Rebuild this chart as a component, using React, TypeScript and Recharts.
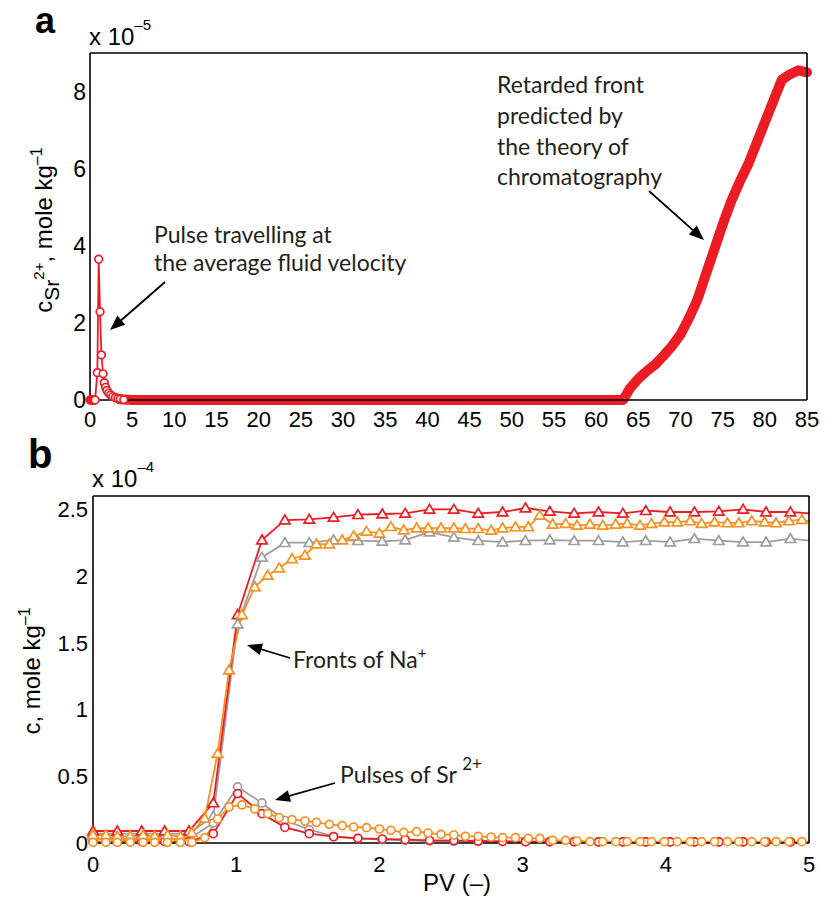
import React from "react";
import { LineChart, Line, XAxis, YAxis } from "recharts";

// ---- panel a: Sr2+ concentration (x 1e-5 mole/kg) vs PV ----
const pulsePV = [0, 0.1, 0.2, 0.3, 0.4, 0.5, 0.6, 0.87, 1.03, 1.19, 1.35, 1.55, 1.7, 1.85, 2.0, 2.2, 2.45, 2.7, 3.0, 3.3, 3.6, 4.0];
const pulseC = [0, 0, 0, 0, 0, 0, 0, 0.71, 3.65, 2.29, 1.17, 0.68, 0.45, 0.33, 0.25, 0.18, 0.13, 0.09, 0.06, 0.04, 0.03, 0.01];
const frontPV = [3.5, 5, 15, 25, 35, 45, 55, 63.2, 64, 65, 66, 67, 68, 69, 70, 71, 72, 73, 74, 75, 76, 77, 78, 79, 80, 81, 82, 83, 84, 85];
const frontC = [0.02, 0, 0, 0, 0, 0, 0, 0, 0.3, 0.55, 0.75, 0.92, 1.15, 1.4, 1.7, 2.12, 2.6, 3.25, 3.9, 4.55, 5.15, 5.65, 6.1, 6.65, 7.2, 7.75, 8.3, 8.45, 8.55, 8.5];
const ticksA_x = [0, 5, 10, 15, 20, 25, 30, 35, 40, 45, 50, 55, 60, 65, 70, 75, 80, 85];
const ticksA_y = [0, 2, 4, 6, 8];

// ---- panel b: concentrations (x 1e-4 mole/kg) vs PV ----
const pvCoarse = [0, 0.17, 0.34, 0.5, 0.67, 0.84, 1.01, 1.18, 1.34, 1.51, 1.68, 1.85, 2.02, 2.18, 2.35, 2.52, 2.69, 2.86, 3.02, 3.19, 3.36, 3.53, 3.7, 3.86, 4.03, 4.2, 4.37, 4.54, 4.7, 4.87, 5.0];
const naRed = [0.09, 0.09, 0.09, 0.09, 0.09, 0.3, 1.71, 2.27, 2.42, 2.425, 2.44, 2.46, 2.465, 2.47, 2.5, 2.5, 2.47, 2.48, 2.51, 2.485, 2.47, 2.48, 2.47, 2.49, 2.48, 2.48, 2.485, 2.5, 2.48, 2.48, 2.47];
const naGray = [0.07, 0.07, 0.07, 0.07, 0.07, 0.2, 1.64, 2.14, 2.25, 2.25, 2.27, 2.265, 2.26, 2.27, 2.33, 2.29, 2.265, 2.255, 2.265, 2.27, 2.265, 2.265, 2.255, 2.265, 2.255, 2.28, 2.265, 2.255, 2.255, 2.28, 2.265];
const srRed = [0.01, 0.01, 0.01, 0.01, 0.01, 0.07, 0.37, 0.22, 0.117, 0.07, 0.047, 0.035, 0.03, 0.025, 0.02, 0.018, 0.015, 0.012, 0.01, 0.01, 0.01, 0.008, 0.008, 0.008, 0.008, 0.008, 0.008, 0.008, 0.008, 0.008, 0.008];
const srGray = [0.03, 0.03, 0.03, 0.03, 0.03, 0.15, 0.42, 0.3, 0.17, 0.1, 0.05, 0.035, 0.025, 0.02, 0.015, 0.012, 0.01, 0.01, 0.008, 0.008, 0.008, 0.008, 0.008, 0.008, 0.008, 0.008, 0.008, 0.008, 0.008, 0.008, 0.008];

const pvFine = [0, 0.09, 0.17, 0.26, 0.35, 0.43, 0.52, 0.61, 0.69, 0.78, 0.87, 0.95, 1.04, 1.13, 1.22, 1.3, 1.39, 1.48, 1.56, 1.65, 1.74, 1.82, 1.91, 2.0, 2.08, 2.17, 2.26, 2.34, 2.43, 2.52, 2.6, 2.69, 2.78, 2.86, 2.95, 3.04, 3.12, 3.21, 3.3, 3.38, 3.47, 3.56, 3.65, 3.73, 3.82, 3.9, 3.99, 4.08, 4.17, 4.25, 4.34, 4.43, 4.51, 4.6, 4.69, 4.77, 4.86, 4.95, 5.0];
const naOrange = [0.06, 0.06, 0.05, 0.05, 0.06, 0.05, 0.06, 0.05, 0.077, 0.185, 0.67, 1.295, 1.71, 1.92, 2.005, 2.06, 2.13, 2.155, 2.24, 2.24, 2.27, 2.3, 2.335, 2.32, 2.37, 2.345, 2.36, 2.36, 2.36, 2.36, 2.355, 2.355, 2.343, 2.36, 2.368, 2.368, 2.455, 2.388, 2.393, 2.38, 2.388, 2.38, 2.388, 2.393, 2.38, 2.393, 2.405, 2.405, 2.413, 2.393, 2.405, 2.398, 2.398, 2.413, 2.405, 2.398, 2.413, 2.423, 2.41];
const srOrange = [0.005, 0.005, 0.005, 0.005, 0.005, 0.005, 0.005, 0.005, 0.005, 0.04, 0.18, 0.27, 0.285, 0.255, 0.22, 0.19, 0.175, 0.165, 0.155, 0.14, 0.13, 0.12, 0.115, 0.105, 0.095, 0.08, 0.085, 0.075, 0.065, 0.06, 0.05, 0.05, 0.045, 0.04, 0.04, 0.035, 0.035, 0.02, 0.02, 0.015, 0.01, 0.01, 0.01, 0.01, 0.01, 0.01, 0.01, 0.01, 0.01, 0.01, 0.01, 0.01, 0.01, 0.01, 0.01, 0.01, 0.01, 0.01, 0.01];
const ticksB_x = [0, 1, 2, 3, 4, 5];
const ticksB_y = [0, 0.5, 1, 1.5, 2, 2.5];

const RED = "#ec1c24";
const GRAY = "#9d9ea2";
const ORANGE = "#f7901e";
const AXIS_FONT = "'Liberation Sans', Arial, sans-serif";
const NOTE_FONT = "Lato, sans-serif";

const zip = (xs: number[], ys: number[]) => xs.map((pv, i) => ({ pv, c: ys[i] }));

const circleDot = (color: string, r: number) => (p: any) => {
  const { cx, cy, index, payload } = p;
  if (cx == null || cy == null || payload.pv >= 5) return <g key={`c${index}`} />;
  return <circle key={`c${index}`} cx={cx} cy={cy} r={r} fill="#fff" stroke={color} strokeWidth={1.7} />;
};

const triangleDot = (color: string) => (p: any) => {
  const { cx, cy, index, payload } = p;
  if (cx == null || cy == null || payload.pv >= 5) return <g key={`t${index}`} />;
  return (
    <path
      key={`t${index}`}
      d={`M${cx},${cy - 5} L${cx + 5.2},${cy + 3.8} L${cx - 5.2},${cy + 3.8} Z`}
      fill="#fff"
      stroke={color}
      strokeWidth={1.7}
    />
  );
};

const axisStroke = { stroke: "#000", strokeWidth: 1.6 };
const tickX = { fill: "#000", fontSize: 22, fontFamily: AXIS_FONT };
const tickY = { fill: "#000", fontSize: 23, fontFamily: AXIS_FONT };

function Arrow({ x1, y1, x2, y2 }: { x1: number; y1: number; x2: number; y2: number }) {
  const dx = x2 - x1;
  const dy = y2 - y1;
  const len = Math.hypot(dx, dy);
  const ux = dx / len;
  const uy = dy / len;
  const bx = x2 - ux * 15;
  const by = y2 - uy * 15;
  const px = -uy * 6;
  const py = ux * 6;
  return (
    <g>
      <line x1={x1} y1={y1} x2={bx + ux * 2} y2={by + uy * 2} stroke="#000" strokeWidth={1.8} />
      <polygon points={`${x2},${y2} ${bx + px},${by + py} ${bx - px},${by - py}`} fill="#000" />
    </g>
  );
}

function PanelA() {
  return (
    <LineChart width={839} height={440} margin={{ top: 53, right: 32, bottom: 10, left: 40 }}>
      <XAxis xAxisId="x" type="number" dataKey="pv" domain={[0, 85]} ticks={ticksA_x} interval={0}
        tickLine={false} tickSize={0} tickMargin={11} axisLine={axisStroke} tick={tickX} height={30} />
      <XAxis xAxisId="xm" type="number" domain={[0, 85]} ticks={ticksA_x} interval={0} mirror
        tick={false} tickSize={7} tickLine={axisStroke} axisLine={false} />
      <XAxis xAxisId="xt" orientation="top" type="number" domain={[0, 85]} ticks={ticksA_x} interval={0} mirror
        tick={false} tickSize={7} tickLine={axisStroke} axisLine={axisStroke} />
      <YAxis yAxisId="y" type="number" domain={[0, 9]} ticks={ticksA_y} interval={0} width={50}
        tickLine={false} tickSize={0} tickMargin={4} axisLine={axisStroke} tick={tickY} />
      <YAxis yAxisId="ym" type="number" domain={[0, 9]} ticks={ticksA_y} interval={0} mirror
        tick={false} tickSize={7} tickLine={axisStroke} axisLine={false} />
      <YAxis yAxisId="yr" orientation="right" type="number" domain={[0, 9]} ticks={ticksA_y} interval={0} mirror
        tick={false} tickSize={7} tickLine={axisStroke} axisLine={axisStroke} />
      <Line xAxisId="x" yAxisId="y" data={zip(frontPV, frontC)} dataKey="c" stroke={RED} strokeWidth={10}
        strokeLinecap="round" strokeLinejoin="round" dot={false} activeDot={false} isAnimationActive={false} />
      <Line xAxisId="x" yAxisId="y" data={zip(pulsePV, pulseC)} dataKey="c" stroke={RED} strokeWidth={1.8}
        dot={circleDot(RED, 3.8)} activeDot={false} isAnimationActive={false} />
    </LineChart>
  );
}

function PanelB() {
  const lines = [
    { key: "naGray", data: zip(pvCoarse, naGray), color: GRAY, dot: triangleDot(GRAY) },
    { key: "srGray", data: zip(pvCoarse, srGray), color: GRAY, dot: circleDot(GRAY, 4) },
    { key: "naRed", data: zip(pvCoarse, naRed), color: RED, dot: triangleDot(RED) },
    { key: "srRed", data: zip(pvCoarse, srRed), color: RED, dot: circleDot(RED, 4) },
    { key: "naOrange", data: zip(pvFine, naOrange), color: ORANGE, dot: triangleDot(ORANGE) },
    { key: "srOrange", data: zip(pvFine, srOrange), color: ORANGE, dot: circleDot(ORANGE, 4) },
  ];
  return (
    <LineChart width={839} height={459} margin={{ top: 56, right: 30, bottom: 26, left: 43 }}>
      <XAxis xAxisId="x" type="number" dataKey="pv" domain={[0, 5]} ticks={ticksB_x} interval={0}
        tickLine={false} tickSize={0} tickMargin={13} axisLine={axisStroke} tick={tickX} height={30} />
      <XAxis xAxisId="xm" type="number" domain={[0, 5]} ticks={ticksB_x} interval={0} mirror
        tick={false} tickSize={7} tickLine={axisStroke} axisLine={false} />
      <XAxis xAxisId="xt" orientation="top" type="number" domain={[0, 5]} ticks={ticksB_x} interval={0} mirror
        tick={false} tickSize={7} tickLine={axisStroke} axisLine={axisStroke} />
      <YAxis yAxisId="y" type="number" domain={[0, 2.6]} ticks={ticksB_y} interval={0} width={50}
        tickLine={false} tickSize={0} tickMargin={5} axisLine={axisStroke} tick={tickX} />
      <YAxis yAxisId="ym" type="number" domain={[0, 2.6]} ticks={ticksB_y} interval={0} mirror
        tick={false} tickSize={7} tickLine={axisStroke} axisLine={false} />
      <YAxis yAxisId="yr" orientation="right" type="number" domain={[0, 2.6]} ticks={ticksB_y} interval={0} mirror
        tick={false} tickSize={7} tickLine={axisStroke} axisLine={axisStroke} />
      {lines.map((l) => (
        <Line key={l.key} xAxisId="x" yAxisId="y" data={l.data} dataKey="c" stroke={l.color} strokeWidth={1.8}
          dot={l.dot} activeDot={false} isAnimationActive={false} />
      ))}
    </LineChart>
  );
}

function Overlay() {
  const t = { fontFamily: AXIS_FONT, fill: "#000" };
  const n = { fontFamily: NOTE_FONT, fill: "#231f20", fontSize: 23 };
  return (
    <svg width={839} height={899} style={{ position: "absolute", left: 0, top: 0, pointerEvents: "none" }}>
      <text x={35} y={33} fontSize={36} fontWeight="bold" {...t}>a</text>
      <text x={28} y={468} fontSize={40} fontWeight="bold" {...t}>b</text>

      <text x={89} y={45} fontSize={24} {...t}>x 10<tspan dy={-15} fontSize={15}>–5</tspan></text>
      <text x={92} y={487} fontSize={24} {...t}>x 10<tspan dy={-15} fontSize={15}>–4</tspan></text>

      <text transform="translate(52,230) rotate(-90)" textAnchor="middle" fontSize={24} {...t}>
        c<tspan dy={7} fontSize={21}>Sr</tspan><tspan dy={-15} fontSize={15}>2+</tspan>
        <tspan dy={8}>, mole kg</tspan><tspan dy={-10} fontSize={16}>–1</tspan>
      </text>
      <text transform="translate(40,671) rotate(-90)" textAnchor="middle" fontSize={24} {...t}>
        c, mole kg<tspan dy={-10} fontSize={16}>–1</tspan>
      </text>
      <text x={457} y={891} textAnchor="middle" fontSize={24} {...t}>PV (–)</text>

      <text x={154} y={243} {...n}>Pulse travelling at</text>
      <text x={154} y={271} {...n}>the average fluid velocity</text>
      <Arrow x1={165} y1={282} x2={110} y2={330} />

      <text x={497} y={93} {...n}>Retarded front</text>
      <text x={497} y={124} {...n}>predicted by</text>
      <text x={497} y={155} {...n}>the theory of</text>
      <text x={497} y={185} {...n}>chromatography</text>
      <Arrow x1={649} y1={191} x2={704} y2={240} />

      <text x={293} y={668} {...n}>Fronts of Na<tspan dy={-10} fontSize={15}>+</tspan></text>
      <Arrow x1={290} y1={658} x2={247} y2={645} />

      <text x={340} y={783} {...n}>Pulses of Sr <tspan dy={-13} fontSize={17}>2+</tspan></text>
      <Arrow x1={335} y1={783} x2={275} y2={800} />
    </svg>
  );
}

export default function App() {
  return (
    <div style={{ position: "absolute", left: 0, top: 0, width: 839, height: 899, background: "#fff" }}>
      <div style={{ position: "absolute", left: 0, top: 0 }}>
        <PanelA />
      </div>
      <div style={{ position: "absolute", left: 0, top: 440 }}>
        <PanelB />
      </div>
      <Overlay />
    </div>
  );
}
